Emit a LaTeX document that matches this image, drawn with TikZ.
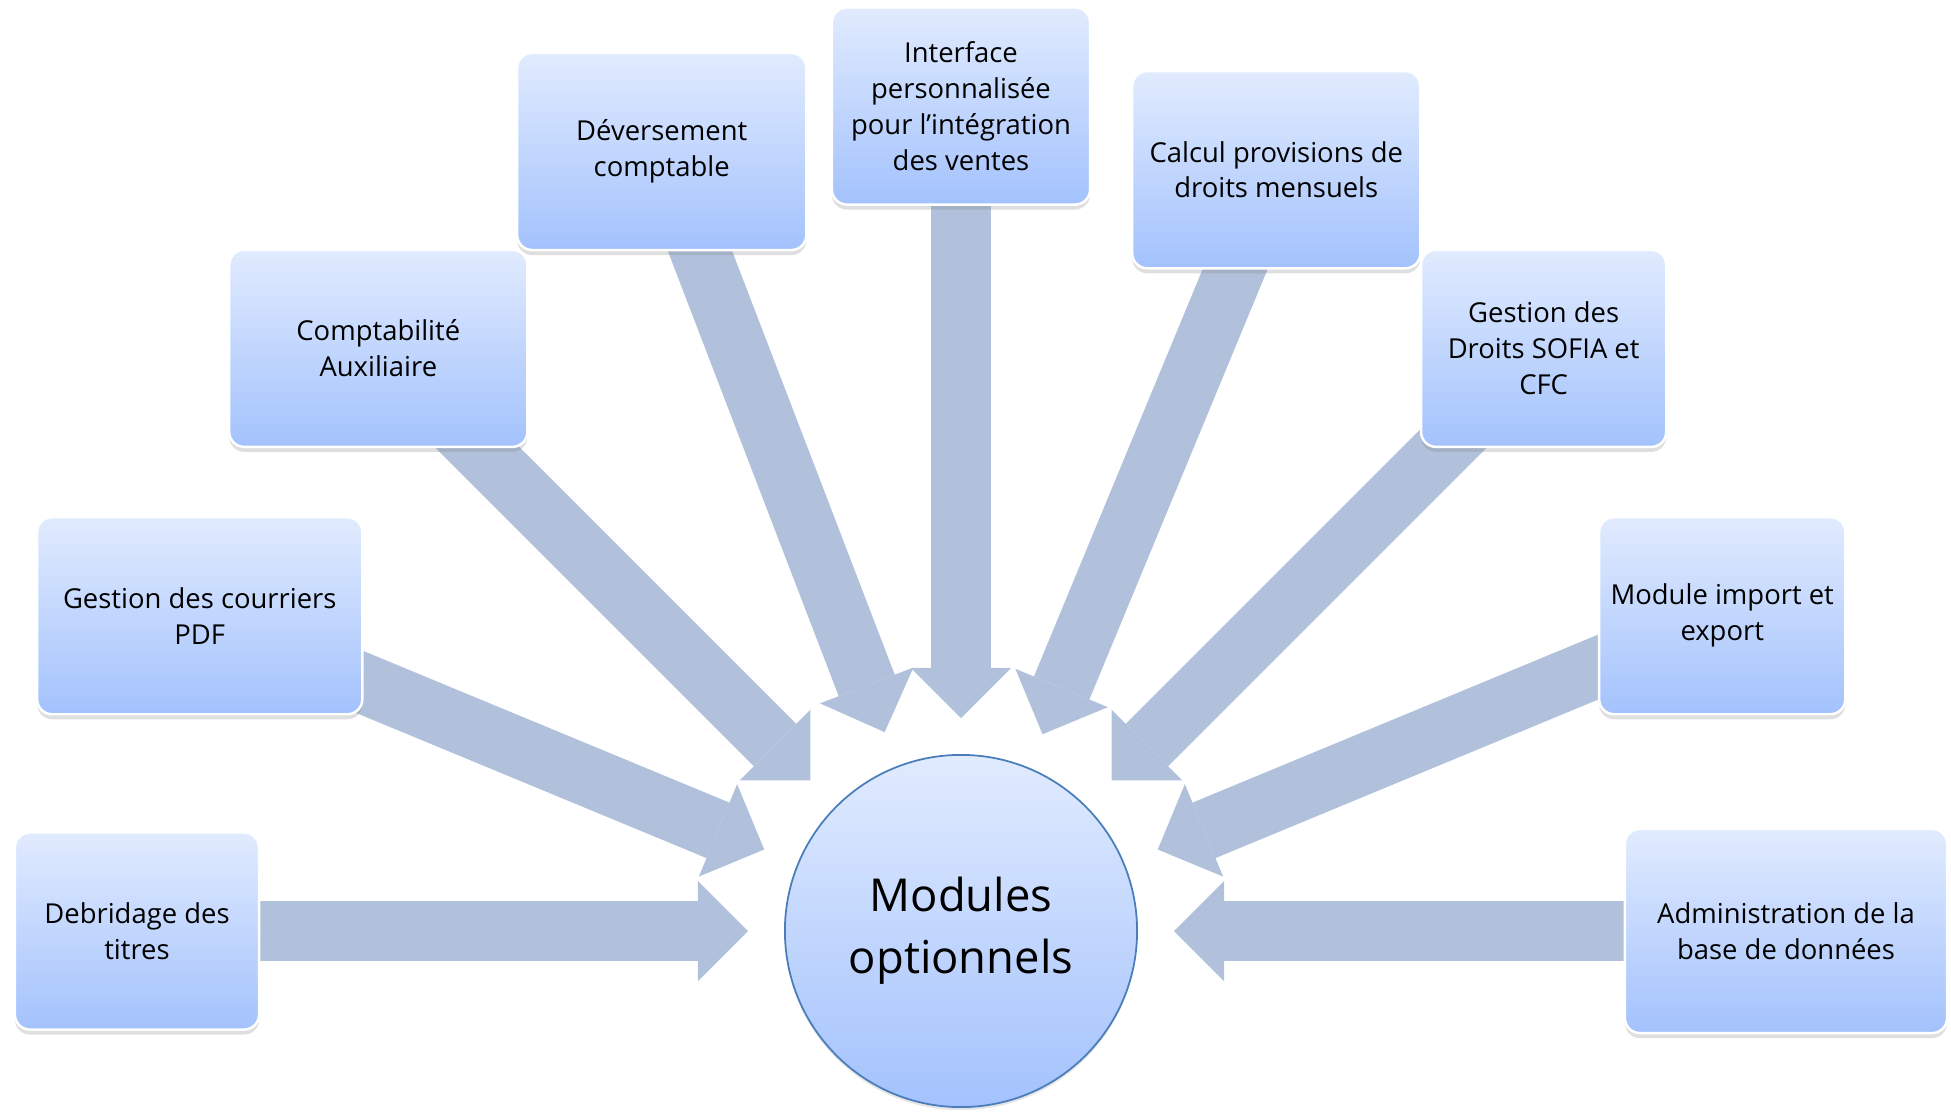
\documentclass[tikz,border=0pt]{standalone}
\usepackage{fontspec}
\setmainfont{Open Sans}
\usetikzlibrary{arrows.meta,shadows}

\definecolor{boxtop}{HTML}{E1EBFE}
\definecolor{boxbottom}{HTML}{A3C2FD}
\definecolor{arrowfill}{HTML}{B1C1DC}
\definecolor{hubline}{HTML}{4A7EBB}
\definecolor{bgedge}{HTML}{E2E2E2}

\pgfdeclareradialshading{bgglow}{\pgfpoint{0bp}{0bp}}{color(0bp)=(white); color(24bp)=(white); color(50bp)=(bgedge)}
\pgfdeclarelayer{bg}
\pgfdeclarelayer{links}
\pgfsetlayers{bg,links,main}

\tikzset{
	module/.style={rounded corners=0.15cm, draw=white, line width=0.7pt,
		top color=boxtop, bottom color=boxbottom, align=center,
		minimum height=1.97cm, inner sep=2pt,
		font=\fontsize{7.8}{10.2}\selectfont,
		drop shadow={shadow xshift=0pt, shadow yshift=-0.05cm, opacity=0.25}},
	hubnode/.style={circle, draw=hubline, line width=0.5pt,
		top color=boxtop, bottom color=boxbottom, minimum size=3.52cm,
		align=center, font=\fontsize{12.9}{17.6}\selectfont,
		drop shadow={shadow xshift=0pt, shadow yshift=-0.03cm, opacity=0.2}},
	bigarrow/.style={draw=arrowfill, line width=0.6cm,
		-{Triangle[length=0.5cm, width=1cm, line width=0pt]}, shorten >=0.36cm}
}

\begin{document}
\begin{tikzpicture}[x=0.01cm, y=0.01cm]

\useasboundingbox (-961,-180) rectangle (990,931);

% centre and the nine modules around it
\node[hubnode] (hub) at (0,0) {Modules\\optionnels};
\node[module, minimum width=2.44cm] (b1) at (180:824) {Debridage des\\titres};
\node[module, minimum width=3.25cm] (b2) at (157.5:824) {Gestion des courriers\\PDF};
\node[module, minimum width=2.98cm] (b3) at (135:824) {Comptabilité\\Auxiliaire};
\node[module, minimum width=2.89cm] (b4) at (111:835) {Déversement\\comptable};
\node[module, minimum width=2.58cm] (b5) at (90:825) {Interface\\personnalisée\\pour l’intégration\\des ventes};
\node[module, minimum width=2.88cm] (b6) at (67.5:824) {Calcul provisions de\\droits mensuels};
\node[module, minimum width=2.45cm] (b7) at (45:824) {Gestion des\\Droits SOFIA et\\CFC};
\node[module, minimum width=2.46cm] (b8) at (22.5:824) {Module import et\\export};
\node[module, minimum width=3.22cm, minimum height=2.04cm] (b9) at (0:825) {Administration de la\\base de données};

\begin{pgfonlayer}{bg}
	\begin{scope}
		\clip (-961,-180) rectangle (990,931);
		\shade[shading=bgglow] (14,376) circle (1130);
	\end{scope}
\end{pgfonlayer}

\begin{pgfonlayer}{links}
	\foreach \i in {1,...,9}
		\draw[bigarrow] (b\i.center) -- (hub);
\end{pgfonlayer}

\end{tikzpicture}
\end{document}
